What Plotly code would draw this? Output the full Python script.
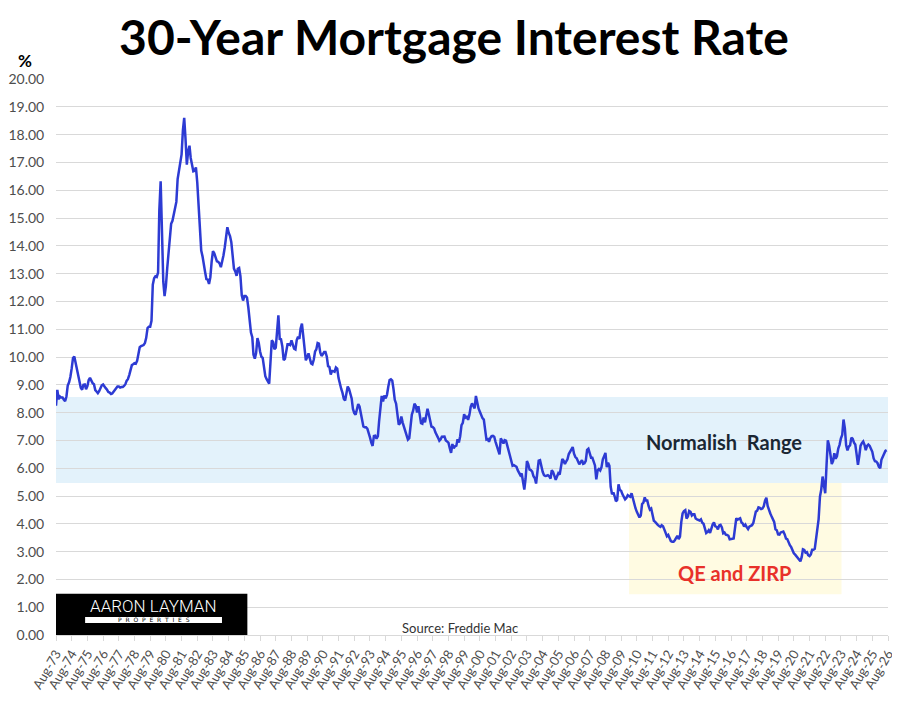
import pandas as pd
import plotly.graph_objects as go

# === Data: monthly 30-year fixed rate (%), Aug 1973 onward ===
rates_1970s = [
    8.25, 8.82, 8.48, 8.58, 8.54,
    8.54, 8.46, 8.41, 8.58, 8.97, 9.09, 9.28, 9.59, 9.96, 10.02, 9.79, 9.62,
    9.43, 9.10, 8.89, 8.82, 9.00, 9.01, 8.84, 8.95, 9.17, 9.25, 9.13, 9.06,
    9.02, 8.81, 8.76, 8.70, 8.77, 8.92, 8.98, 9.01, 8.96, 8.88, 8.82, 8.74,
    8.72, 8.67, 8.69, 8.75, 8.83, 8.86, 8.94, 8.94, 8.90, 8.92, 8.92, 8.96,
    9.02, 9.15, 9.20, 9.35, 9.57, 9.71, 9.74, 9.78, 9.76, 9.86, 10.11, 10.35,
    10.39, 10.41, 10.43, 10.50, 10.69, 11.04, 11.09, 11.09, 11.30, 12.60, 12.83, 12.90,
]
rates_1980s = [
    12.88, 13.04, 15.28, 16.32, 14.26, 12.71, 12.19, 12.56, 13.20, 13.79, 14.21, 14.79,
    14.90, 15.13, 15.40, 15.58, 16.40, 16.70, 16.83, 17.29, 18.16, 18.60, 17.83, 16.92,
    17.40, 17.60, 17.16, 16.89, 16.68, 16.70, 16.82, 16.27, 15.43, 14.61, 13.83, 13.62,
    13.25, 13.04, 12.80, 12.78, 12.63, 12.87, 13.42, 13.81, 13.73, 13.54, 13.44, 13.42,
    13.37, 13.23, 13.39, 13.65, 13.94, 14.42, 14.67, 14.47, 14.35, 14.13, 13.64, 13.18,
    13.08, 12.92, 13.17, 13.20, 12.91, 12.22, 12.03, 12.19, 12.19, 12.14, 11.78, 11.26,
    10.88, 10.71, 10.08, 9.94, 10.14, 10.68, 10.51, 10.20, 10.01, 9.97, 9.70, 9.31,
    9.20, 9.08, 9.04, 9.83, 10.60, 10.54, 10.28, 10.33, 10.89, 11.50, 10.65, 10.64,
    10.38, 9.89, 9.93, 10.20, 10.46, 10.46, 10.43, 10.60, 10.48, 10.30, 10.27, 10.61,
    10.73, 10.65, 11.03, 11.20, 10.77, 10.20, 9.88, 9.99, 10.13, 9.95, 9.77, 9.74,
]
rates_1990s = [
    9.90, 10.20, 10.27, 10.50, 10.48, 10.16, 10.04, 10.10, 10.18, 10.18, 10.01, 9.67,
    9.64, 9.37, 9.50, 9.49, 9.47, 9.62, 9.58, 9.24, 9.01, 8.86, 8.71, 8.50,
    8.43, 8.76, 8.94, 8.85, 8.67, 8.51, 8.13, 7.98, 7.92, 8.09, 8.31, 8.22,
    7.99, 7.68, 7.50, 7.47, 7.47, 7.42, 7.21, 7.11, 6.92, 6.80, 7.16, 7.17,
    7.06, 7.15, 7.68, 8.32, 8.60, 8.40, 8.61, 8.51, 8.64, 8.93, 9.17, 9.20,
    9.15, 8.83, 8.46, 8.32, 7.96, 7.57, 7.61, 7.86, 7.64, 7.48, 7.38, 7.20,
    7.03, 7.08, 7.62, 7.93, 8.07, 8.32, 8.25, 8.00, 8.23, 7.92, 7.62, 7.60,
    7.82, 7.65, 7.90, 8.14, 7.94, 7.69, 7.50, 7.48, 7.43, 7.29, 7.21, 7.10,
    6.99, 7.04, 7.13, 7.14, 7.14, 7.00, 6.95, 6.92, 6.72, 6.55, 6.87, 6.72,
    6.79, 6.81, 7.04, 6.92, 7.15, 7.55, 7.63, 7.94, 7.82, 7.85, 7.74, 7.91,
]
rates_2000s = [
    8.21, 8.33, 8.24, 8.15, 8.60, 8.29, 8.15, 8.03, 7.91, 7.80, 7.75, 7.38,
    7.03, 7.05, 6.95, 7.08, 7.15, 7.16, 7.13, 6.95, 6.82, 6.62, 6.50, 7.07,
    7.00, 6.89, 7.01, 6.99, 6.81, 6.65, 6.49, 6.29, 6.09, 6.11, 6.07, 6.05,
    5.92, 5.84, 5.75, 5.81, 5.48, 5.23, 5.63, 6.26, 6.15, 5.95, 5.93, 5.88,
    5.71, 5.64, 5.45, 5.83, 6.27, 6.29, 6.06, 5.87, 5.75, 5.72, 5.73, 5.75,
    5.71, 5.63, 5.93, 5.86, 5.72, 5.58, 5.70, 5.82, 5.77, 6.07, 6.33, 6.27,
    6.15, 6.25, 6.32, 6.51, 6.60, 6.68, 6.76, 6.52, 6.40, 6.36, 6.24, 6.14,
    6.22, 6.29, 6.16, 6.18, 6.26, 6.66, 6.70, 6.57, 6.38, 6.38, 6.21, 6.10,
    5.60, 5.92, 5.97, 5.92, 6.04, 6.32, 6.43, 6.55, 6.04, 6.20, 6.09, 5.33,
    5.06, 5.13, 5.00, 4.81, 4.86, 5.42, 5.22, 5.19, 5.06, 4.95, 4.88, 4.93,
]
rates_2010s = [
    5.03, 4.99, 4.97, 5.10, 4.89, 4.74, 4.56, 4.43, 4.35, 4.23, 4.30, 4.71,
    4.76, 4.95, 4.84, 4.84, 4.64, 4.51, 4.55, 4.27, 4.11, 4.07, 3.99, 3.96,
    3.92, 3.89, 3.95, 3.91, 3.80, 3.68, 3.55, 3.60, 3.50, 3.38, 3.35, 3.35,
    3.41, 3.53, 3.57, 3.45, 3.54, 4.07, 4.37, 4.46, 4.49, 4.19, 4.26, 4.46,
    4.43, 4.30, 4.34, 4.34, 4.19, 4.16, 4.13, 4.12, 4.16, 4.04, 4.00, 3.86,
    3.67, 3.71, 3.77, 3.67, 3.84, 3.98, 4.05, 3.91, 3.89, 3.80, 3.94, 3.96,
    3.87, 3.66, 3.69, 3.61, 3.60, 3.57, 3.44, 3.44, 3.46, 3.47, 3.77, 4.20,
    4.15, 4.17, 4.20, 4.05, 4.01, 3.90, 3.97, 3.88, 3.81, 3.90, 3.92, 3.95,
    4.03, 4.33, 4.44, 4.47, 4.59, 4.57, 4.53, 4.55, 4.63, 4.83, 4.94, 4.64,
    4.46, 4.37, 4.27, 4.14, 4.07, 3.80, 3.77, 3.62, 3.61, 3.69, 3.70, 3.72,
]
rates_2020s = [
    3.62, 3.47, 3.45, 3.31, 3.23, 3.16, 3.02, 2.94, 2.89, 2.83, 2.77, 2.68,
    2.65, 2.81, 3.08, 3.06, 2.96, 2.98, 2.87, 2.84, 2.90, 3.07, 3.07, 3.10,
    3.45, 3.76, 4.17, 4.98, 5.23, 5.70, 5.41, 5.10, 6.11, 7.00, 6.81, 6.36,
    6.15, 6.26, 6.54, 6.34, 6.43, 6.71, 6.84, 7.07, 7.20, 7.75, 7.44, 6.82,
    6.64, 6.78, 6.82, 7.10, 7.06, 6.92, 6.85, 6.50, 6.12, 6.43, 6.81, 6.90,
    6.96, 6.84, 6.65, 6.80, 6.85, 6.80, 6.72, 6.59, 6.35, 6.25, 6.24, 6.18,
    6.05, 6.00, 6.30, 6.40, 6.55, 6.62, 6.65,
]

rates = rates_1970s + rates_1980s + rates_1990s + rates_2000s + rates_2010s + rates_2020s
dates = pd.date_range("1973-08-01", periods=len(rates), freq="MS")

# === Annotation bands ===
normal_low, normal_high = 5.47, 8.56
qe_start, qe_end = "2010-02-01", "2023-08-15"
qe_low = 1.47

LINE_BLUE = "#2d3bd3"
FONT = "Lato"

fig = go.Figure()
fig.add_trace(go.Scatter(
    x=dates, y=rates, mode="lines",
    line=dict(color=LINE_BLUE, width=2.5),
    hoverinfo="x+y", showlegend=False,
))

# bands sit below the gridlines
fig.add_shape(type="rect", xref="paper", yref="y", x0=0, x1=1,
              y0=normal_low, y1=normal_high, fillcolor="#e3f2fb",
              line_width=0, layer="below")
fig.add_shape(type="rect", xref="x", yref="y", x0=qe_start, x1=qe_end,
              y0=qe_low, y1=normal_low, fillcolor="#fffbe2",
              line_width=0, layer="below")

# logo block
fig.add_shape(type="rect", xref="paper", yref="y", x0=0, x1=0.23,
              y0=0, y1=1.48, fillcolor="black", line_width=0, layer="above")
fig.add_shape(type="rect", xref="paper", yref="y", x0=0.035, x1=0.1995,
              y0=0.43, y1=0.65, fillcolor="white", line_width=0, layer="above")
fig.add_annotation(text="AARON LAYMAN", xref="paper", yref="y", x=0.1175, y=0.6,
                   xanchor="center", yanchor="bottom", showarrow=False,
                   font=dict(family="Roboto", size=17, color="white", weight=300))
fig.add_annotation(text="P  R  O  P  E  R  T  I  E  S", xref="paper", yref="y",
                   x=0.1175, y=0.54, xanchor="center", showarrow=False,
                   font=dict(family="DejaVu Sans", size=6, color="black"))

fig.add_annotation(text="Normalish\u00a0 Range", xref="paper", yref="y", x=0.803, y=6.95,
                   xanchor="center", showarrow=False,
                   font=dict(family=FONT, size=20, color="#1b2733", weight="bold"))
fig.add_annotation(text="QE and ZIRP", xref="paper", yref="y", x=0.816, y=2.23,
                   xanchor="center", showarrow=False,
                   font=dict(family=FONT, size=20, color="#e8312a", weight="bold"))
fig.add_annotation(text="Source: Freddie Mac", xref="paper", yref="y", x=0.485, y=0.25,
                   xanchor="center", showarrow=False,
                   font=dict(family=FONT, size=13, color="#333333"))
fig.add_annotation(text="%", xref="paper", yref="paper", x=0, y=1,
                   xanchor="center", yanchor="middle", xshift=-31, yshift=19,
                   showarrow=False,
                   font=dict(family=FONT, size=17, color="black", weight="bold"))

# page body adds an 8px offset, so the figure is sized to fit the window
fig.update_layout(
    width=892, height=693,
    margin=dict(l=48, r=12, t=71, b=66),
    paper_bgcolor="white", plot_bgcolor="white",
    title=dict(text="<b>30-Year Mortgage Interest Rate</b>", x=0.5, xanchor="center",
               y=0.957, yanchor="middle", font=dict(family=FONT, size=48, color="black")),
    font=dict(family=FONT, color="#595959"),
)
fig.update_xaxes(
    type="date", range=["1973-08-01", "2026-08-01"],
    tick0="1973-08-01", dtick="M12", tickformat="%b-%y", tickangle=-60,
    tickfont=dict(size=13, color="#4d4d4d"),
    showgrid=False, showline=True, linecolor="#d9d9d9", linewidth=1,
    ticks="outside", ticklen=5, tickcolor="#d9d9d9", automargin=False,
)
fig.update_yaxes(
    range=[0, 20], dtick=1, tickformat=".2f",
    tickfont=dict(size=14, color="#4d4d4d"),
    showgrid=True, gridcolor="#d9d9d9", gridwidth=1, zeroline=False,
    ticks="outside", ticklen=8, tickcolor="rgba(0,0,0,0)", automargin=False,
)

fig.write_html("out.html")
